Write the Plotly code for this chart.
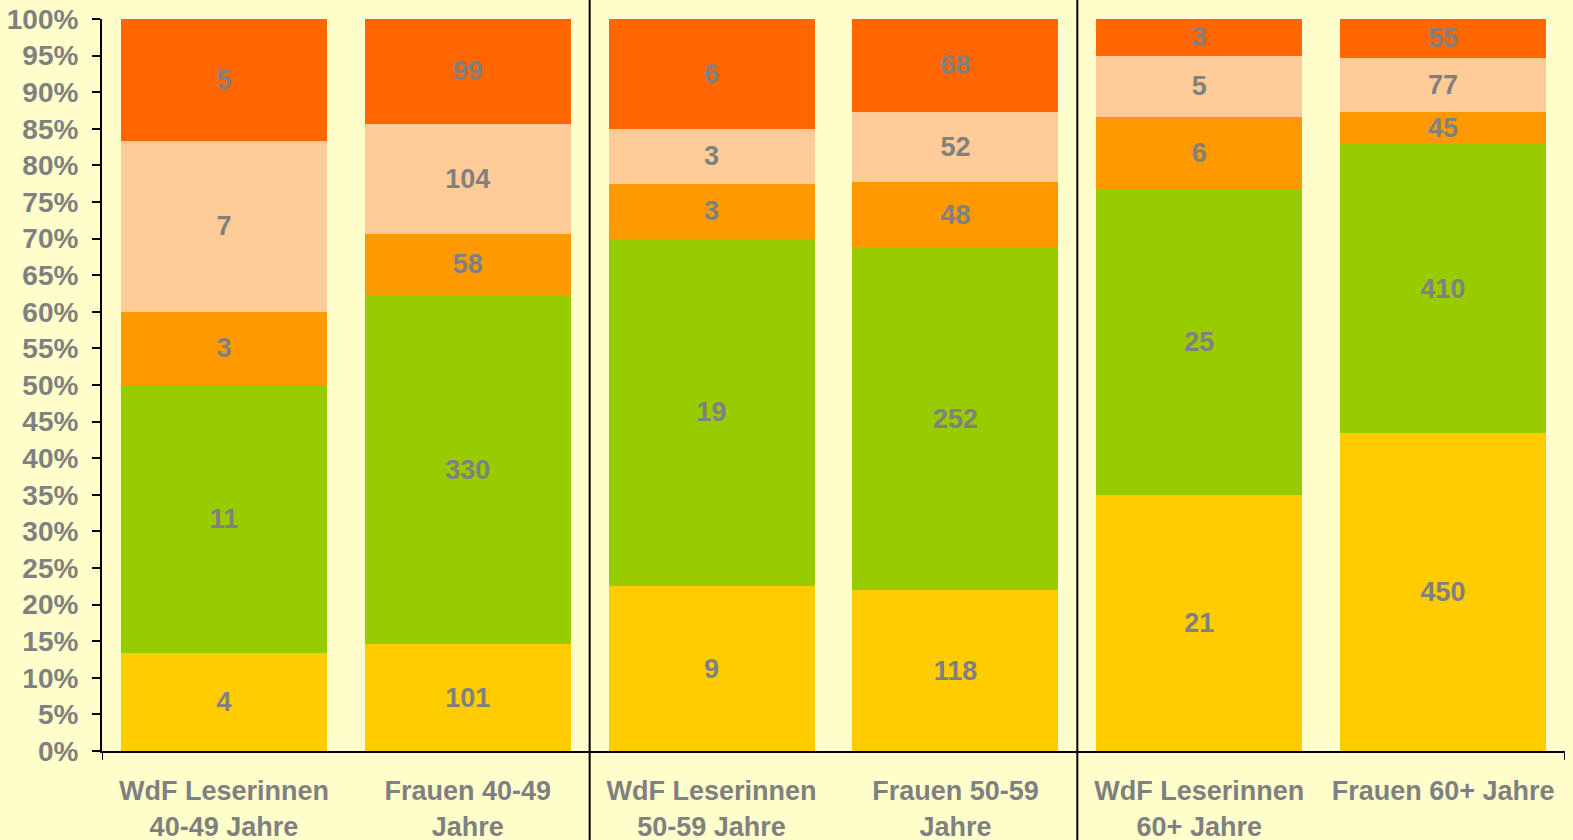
import plotly.graph_objects as go

# categories on the x axis
categories = [
    "WdF Leserinnen<br>40-49 Jahre",
    "Frauen 40-49<br>Jahre",
    "WdF Leserinnen<br>50-59 Jahre",
    "Frauen 50-59<br>Jahre",
    "WdF Leserinnen<br>60+ Jahre",
    "Frauen 60+ Jahre",
]

# counts per stack segment, bottom to top
series_1 = [4, 101, 9, 118, 21, 450]
series_2 = [11, 330, 19, 252, 25, 410]
series_3 = [3, 58, 3, 48, 6, 45]
series_4 = [7, 104, 3, 52, 5, 77]
series_5 = [5, 99, 6, 68, 3, 55]

series_names = ["Gruppe 1", "Gruppe 2", "Gruppe 3", "Gruppe 4", "Gruppe 5"]
series_colors = ["#FFCC00", "#99CC00", "#FF9900", "#FFCC99", "#FF6600"]

BG = "#FFFFCC"
GREY = "#808080"
FONT = "Arial, 'Liberation Sans', sans-serif"
FS = 27

fig = go.Figure()
for name, vals, col in zip(series_names, [series_1, series_2, series_3, series_4, series_5], series_colors):
    fig.add_trace(go.Bar(
        x=categories, y=vals, name=name,
        marker=dict(color=col, line=dict(width=0)),
        text=[str(v) for v in vals],
        textposition="inside",
        insidetextanchor="middle",
        constraintext="none",
        textangle=0,
        textfont=dict(size=FS, color=GREY, family=FONT, weight="bold"),
        hoverinfo="skip",
    ))

shapes = []
# group separators spanning the full height
for xs in (1.5, 3.5):
    shapes.append(dict(type="line", xref="x", yref="paper", x0=xs, x1=xs, y0=-0.2, y1=1.1,
                       line=dict(color="black", width=2)))
# small end ticks on the category axis
for xs in (-0.5, 5.5):
    shapes.append(dict(type="line", xref="x", yref="paper", x0=xs, x1=xs, y0=0, y1=-0.012,
                       line=dict(color="black", width=2)))

fig.update_layout(
    barmode="stack",
    barnorm="percent",
    bargap=0.155,
    showlegend=False,
    paper_bgcolor=BG,
    plot_bgcolor=BG,
    width=1573, height=840,
    margin=dict(l=102, r=8, t=19, b=89),
    font=dict(family=FONT, color=GREY, size=FS, weight="bold"),
    shapes=shapes,
    xaxis=dict(
        showline=True, linecolor="black", linewidth=2,
        ticks="", showgrid=False, automargin=False,
        tickfont=dict(size=FS, color=GREY, family=FONT, weight="bold"),
        ticklabelstandoff=15,
        range=[-0.5, 5.5],
    ),
    yaxis=dict(
        range=[0, 100], dtick=5, ticksuffix="%",
        showline=True, linecolor="black", linewidth=2,
        ticks="outside", ticklen=8, tickwidth=2, tickcolor="black",
        showgrid=False, zeroline=False, automargin=False,
        tickfont=dict(size=28, color=GREY, family=FONT, weight="bold"),
        ticklabelstandoff=8,
    ),
)

fig.write_html(
    "out.html",
    config=dict(displayModeBar=False),
    post_script="document.body.style.margin='0';document.body.style.background='" + BG + "';",
)
